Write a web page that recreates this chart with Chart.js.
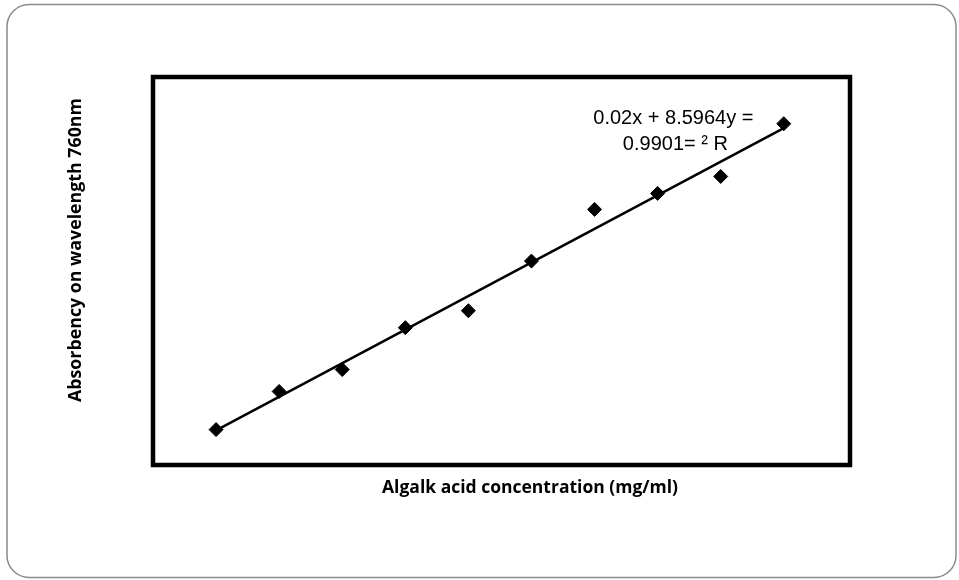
<!DOCTYPE html>
<html>
<head>
<meta charset="utf-8">
<script src="https://cdn.jsdelivr.net/npm/chart.js@4"></script>
<style>
  html, body { margin: 0; padding: 0; background: #fff; }
  canvas { display: block; }
</style>
</head>
<body>
<canvas id="chart" width="959" height="580"></canvas>
<script>
// concentration (mg/ml) and absorbance readings
const concentration = [10, 20, 30, 40, 50, 60, 70, 80, 90, 100];
const absorbance = [0.228, 0.474, 0.615, 0.885, 0.994, 1.314, 1.647, 1.750, 1.859, 2.199];

const equationLines = ['0.02x + 8.5964y =', '0.9901= \u00B2 R'];
const xTitle = 'Algalk acid concentration (mg/ml)';
const yTitle = 'Absorbency on wavelength 760nm';

// least squares fit for the trendline
const n = concentration.length;
const mx = concentration.reduce((a, b) => a + b, 0) / n;
const my = absorbance.reduce((a, b) => a + b, 0) / n;
let sxy = 0, sxx = 0;
concentration.forEach((x, i) => {
    sxy += (x - mx) * (absorbance[i] - my);
    sxx += (x - mx) * (x - mx);
});
const slope = sxy / sxx;
const intercept = my - slope * mx;
const xFirst = concentration[0];
const xLast = concentration[n - 1];
const trend = [
    { x: xFirst, y: slope * xFirst + intercept },
    { x: xLast, y: slope * xLast + intercept }
];

const framePlugin = {
    id: 'frame',
    beforeDraw(chart) {
        const ctx = chart.ctx;
        ctx.save();
        ctx.strokeStyle = '#8a8a8a';
        ctx.lineWidth = 1.5;
        ctx.beginPath();
        ctx.roundRect(7, 4.5, 949, 573, 22);
        ctx.stroke();
        ctx.restore();
    },
    afterDatasetsDraw(chart) {
        const { ctx, chartArea: a, scales } = chart;
        ctx.save();
        ctx.strokeStyle = '#000';
        ctx.lineWidth = 4.5;
        ctx.strokeRect(a.left, a.top, a.right - a.left, a.bottom - a.top);

        // equation label
        ctx.fillStyle = '#000';
        ctx.font = '20px "Liberation Sans", Arial, sans-serif';
        ctx.textAlign = 'center';
        ctx.textBaseline = 'alphabetic';
        const cx = scales.x.getPixelForValue(82.5);
        ctx.fillText(equationLines[0], cx, scales.y.getPixelForValue(2.2));
        ctx.fillText(equationLines[1], cx + 2, scales.y.getPixelForValue(2.03));

        // axis titles (sit a bit off-centre in the original)
        ctx.font = 'bold 17.5px "Open Sans"';
        ctx.fillText(xTitle, a.left + 377, a.bottom + 28);
        ctx.translate(a.left - 72, a.top + 173);
        ctx.rotate(-Math.PI / 2);
        ctx.font = 'bold 17.8px "Open Sans"';
        ctx.fillText(yTitle, 0, 0);
        ctx.restore();
    }
};

new Chart(document.getElementById('chart'), {
    type: 'scatter',
    data: {
        datasets: [
            {
                label: 'Absorbance',
                data: concentration.map((x, i) => ({ x, y: absorbance[i] })),
                pointStyle: 'rectRot',
                pointRadius: 7,
                pointBackgroundColor: '#000',
                pointBorderColor: '#000',
                pointBorderWidth: 1,
                showLine: false
            },
            {
                label: 'Linear',
                data: trend,
                showLine: true,
                borderColor: '#000',
                borderWidth: 2.5,
                pointRadius: 0
            }
        ]
    },
    options: {
        responsive: false,
        animation: false,
        layout: { padding: { left: 153, right: 109, top: 77, bottom: 115 } },
        plugins: {
            legend: { display: false },
            tooltip: { enabled: false }
        },
        scales: {
            x: {
                type: 'linear',
                display: false,
                min: 0,
                max: 110.5
            },
            y: {
                display: false,
                min: 0,
                max: 2.5
            }
        }
    },
    plugins: [framePlugin]
});
</script>
</body>
</html>
